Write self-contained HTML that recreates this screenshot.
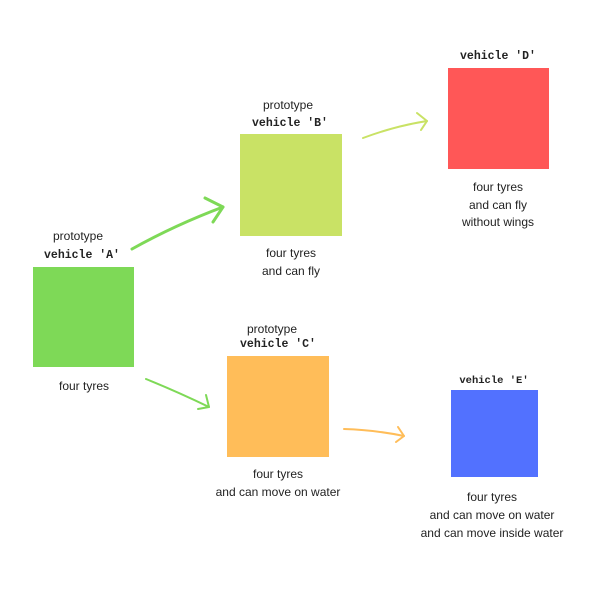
<!DOCTYPE html>
<html><head><style>
html,body{margin:0;padding:0;background:#fff;}
svg text{font-family:"Liberation Sans",sans-serif;font-size:12px;fill:#222;text-anchor:middle;}
svg text.m{font-family:"Liberation Mono",monospace;font-weight:bold;font-size:11.5px;}
</style></head><body>
<svg width="600" height="600" xmlns="http://www.w3.org/2000/svg">
<rect x="0" y="0" width="600" height="600" fill="#fff"/>
<!-- boxes -->
<rect x="33" y="267" width="101" height="100" fill="#7ed957"/>
<rect x="240" y="134" width="102" height="102" fill="#c9e265"/>
<rect x="448" y="68" width="101" height="101" fill="#ff5757"/>
<rect x="227" y="356" width="102" height="101" fill="#ffbd59"/>
<rect x="451" y="390" width="87" height="87" fill="#5271ff"/>
<!-- arrows -->
<g fill="none" stroke-linecap="round" stroke-linejoin="round">
<path d="M132 249 Q175 225 223 207" stroke="#7ed957" stroke-width="3"/>
<path d="M205 198 L223 207 L213 222" stroke="#7ed957" stroke-width="3"/>
<path d="M146 379 Q178 392 209 407" stroke="#7ed957" stroke-width="2"/>
<path d="M198 409 L209 407 L206 395" stroke="#7ed957" stroke-width="2"/>
<path d="M363 138 Q395 126 427 121" stroke="#c9e265" stroke-width="2"/>
<path d="M417 113 L427 121 L421 130" stroke="#c9e265" stroke-width="2"/>
<path d="M344 429 Q375 430 404 436" stroke="#ffbd59" stroke-width="2"/>
<path d="M398 427 L404 436 L396 442" stroke="#ffbd59" stroke-width="2"/>
</g>
<!-- labels -->
<text x="78" y="240">prototype</text>
<text class="m" x="82" y="258">vehicle 'A'</text>
<text x="84" y="390">four tyres</text>
<text x="288" y="109">prototype</text>
<text class="m" x="290" y="126">vehicle 'B'</text>
<text x="291" y="257">four tyres</text>
<text x="291" y="275">and can fly</text>
<text class="m" x="498" y="59">vehicle 'D'</text>
<text x="498" y="191">four tyres</text>
<text x="498" y="209">and can fly</text>
<text x="498" y="226">without wings</text>
<text x="272" y="333">prototype</text>
<text class="m" x="278" y="347">vehicle 'C'</text>
<text x="278" y="478">four tyres</text>
<text x="278" y="496">and can move on water</text>
<text class="m" x="494" y="383" style="font-size:10.5px">vehicle 'E'</text>
<text x="492" y="501">four tyres</text>
<text x="492" y="519">and can move on water</text>
<text x="492" y="537">and can move inside water</text>
</svg>
</body></html>
